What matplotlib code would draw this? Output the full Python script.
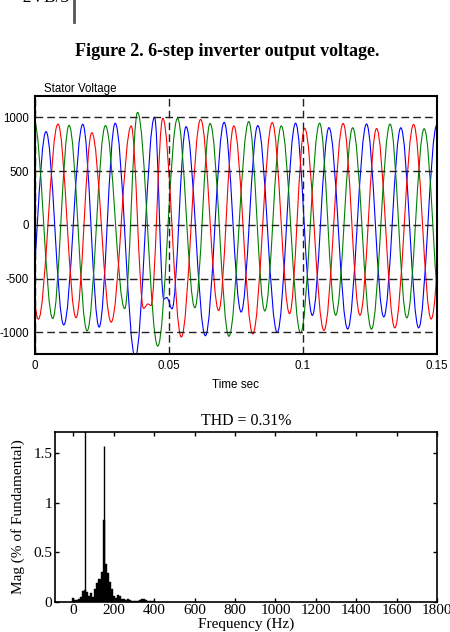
import numpy as np
import matplotlib
matplotlib.use("Agg")
import matplotlib.pyplot as plt
from matplotlib.path import Path
from matplotlib.patches import PathPatch
from matplotlib.lines import Line2D

plt.rcParams["axes.unicode_minus"] = False

# stator voltage: extrema (time s, volts), per phase
t_blue = [-0.00239, 0.00422, 0.01084, 0.01794, 0.02403, 0.03001, 0.03748, 0.04469,
          0.04813, 0.04925, 0.05120, 0.05643, 0.06364, 0.07063, 0.07698, 0.08318,
          0.09043, 0.09727, 0.10351, 0.10972, 0.11670, 0.12373, 0.13016, 0.13651,
          0.14316, 0.14996, 0.15669]
v_blue = [-900, 866, -930, 934, -950, 944, -1230, 1000,
          -690, -675, -780, 912, -1030, 952, -810, 922,
          -1000, 944, -841, 903, -968, 937, -855, 902,
          -957, 927, -950]

t_green = [-0.00019, 0.00673, 0.01282, 0.01954, 0.02638, 0.03356, 0.03834, 0.04589,
           0.05325, 0.05972, 0.06540, 0.07242, 0.07982, 0.08580, 0.09193, 0.09914,
           0.10624, 0.11222, 0.11857, 0.12556, 0.13251, 0.13875, 0.14522, 0.15183]
v_green = [960, -870, 924, -985, 922, -779, 1045, -1126,
           989, -770, 942, -1035, 959, -800, 919, -1005,
           944, -839, 902, -969, 936, -864, 893, -960]

t_red = [-0.00527, 0.00135, 0.00867, 0.01543, 0.02130, 0.02851, 0.03599, 0.04058,
         0.04226, 0.04335, 0.04776, 0.05467, 0.06188, 0.06861, 0.07422, 0.08132,
         0.08857, 0.09503, 0.10064, 0.10785, 0.11502, 0.12130, 0.12747, 0.13427,
         0.14126, 0.14783, 0.15445]
v_red = [900, -876, 936, -863, 856, -904, 919, -776,
         -735, -750, 990, -1042, 980, -796, 919, -1013,
         950, -825, 897, -981, 942, -840, 895, -957,
         933, -875, 920]

# FFT spectrum (Hz, % of fundamental)
spec_f = [0, 10, 20, 30, 40, 50, 60, 70, 80, 90, 100, 110, 120, 130, 140, 150,
          160, 170, 180, 190, 200, 210, 220, 230, 240, 250, 260, 270, 280, 290,
          300, 310, 320, 330, 340, 350, 360, 370, 380, 390, 400]
spec_m = [0.04, 0.02, 0.02, 0.03, 0.05, 0.11, 0.12, 0.10, 0.06, 0.09, 0.05, 0.13,
          0.19, 0.23, 0.30, 0.83, 0.38, 0.29, 0.20, 0.13, 0.06, 0.04, 0.07, 0.06,
          0.03, 0.03, 0.02, 0.03, 0.02, 0.01, 0.01, 0.01, 0.01, 0.02, 0.03, 0.03,
          0.02, 0.01, 0.01, 0.01, 0.01]
spike_f = [60, 150]
spike_m = [100, 1.58]


def wave_path(ts, vs, k=0.364):
    # smooth half-waves between extrema (horizontal tangent at each extremum)
    verts = [(ts[0], vs[0])]
    codes = [Path.MOVETO]
    for i in range(1, len(ts)):
        dt = ts[i] - ts[i - 1]
        verts += [(ts[i - 1] + k * dt, vs[i - 1]), (ts[i] - k * dt, vs[i]), (ts[i], vs[i])]
        codes += [Path.CURVE4] * 3
    return Path(verts, codes)


fig = plt.figure(figsize=(4.5, 6.32), dpi=100)

# bits of the page above the chart
fig.text(13 / 450, 1 - 2.5 / 632, "\u22122VB/3", family="Liberation Serif", fontsize=12.5,
         ha="left", va="baseline")
fig.add_artist(Line2D([74 / 450, 74 / 450], [1, 1 - 21.7 / 632], transform=fig.transFigure,
                      color="#555555", lw=2))
fig.text(227 / 450, 1 - 56 / 632, "Figure 2. 6-step inverter output voltage.",
         family="Liberation Serif", weight="bold", fontsize=13, ha="center", va="baseline")

# --- stator voltage ---
ax = fig.add_axes([34.7 / 450, 1 - 354 / 632, 402.3 / 450, 258.3 / 632])
for ts, vs, c in [(t_blue, v_blue, "#0000ff"), (t_green, v_green, "#008000"),
                  (t_red, v_red, "#ff0000")]:
    ax.add_patch(PathPatch(wave_path(ts, vs), fill=False, edgecolor=c, lw=0.8))
ax.set_xlim(0, 0.15)
ax.set_ylim(-1200, 1200)
ax.set_xticks([0, 0.05, 0.1, 0.15])
ax.set_xticklabels(["0", "0.05", "0.1", "0.15"])
ax.set_yticks([-1000, -500, 0, 500, 1000])
ax.grid(True, color="#222222", lw=1.0, linestyle=(0, (5.5, 3)))
ax.tick_params(length=0, labelsize=8.3, pad=4)
for lab in ax.get_xticklabels() + ax.get_yticklabels():
    lab.set_family("Liberation Sans")
for s in ax.spines.values():
    s.set_linewidth(1.5)
ax.text(0.024, 1.003, "Stator Voltage", transform=ax.transAxes, fontsize=8.3,
        family="Liberation Sans", ha="left", va="bottom")
ax.set_xlabel("Time sec", fontsize=8.4, family="Liberation Sans", labelpad=5)

# --- spectrum ---
bx = fig.add_axes([55 / 450, 1 - 601.7 / 632, 382.3 / 450, 170 / 632])
bx.bar(spec_f, spec_m, width=10, color="k", edgecolor="k", lw=0.3)
bx.vlines(spike_f, 0, spike_m, color="k", lw=1.0)
bx.set_xlim(-90, 1800)
bx.set_ylim(0, 1.72)
bx.set_xticks(range(0, 1801, 200))
bx.set_yticks([0, 0.5, 1, 1.5])
bx.set_yticklabels(["0", "0.5", "1", "1.5"])
bx.tick_params(direction="in", top=True, right=True, length=3, width=1,
               labelsize=11, pad=2)
for lab in bx.get_xticklabels() + bx.get_yticklabels():
    lab.set_family("Liberation Serif")
for s in bx.spines.values():
    s.set_linewidth(1.2)
bx.set_title("THD = 0.31%", family="Liberation Serif", fontsize=11.4, pad=5)
bx.set_ylabel("Mag (% of Fundamental)", family="Liberation Serif", fontsize=11, labelpad=6)
bx.set_xlabel("Frequency (Hz)", family="Liberation Serif", fontsize=11, labelpad=0)

fig.savefig("out.png", dpi=100)
